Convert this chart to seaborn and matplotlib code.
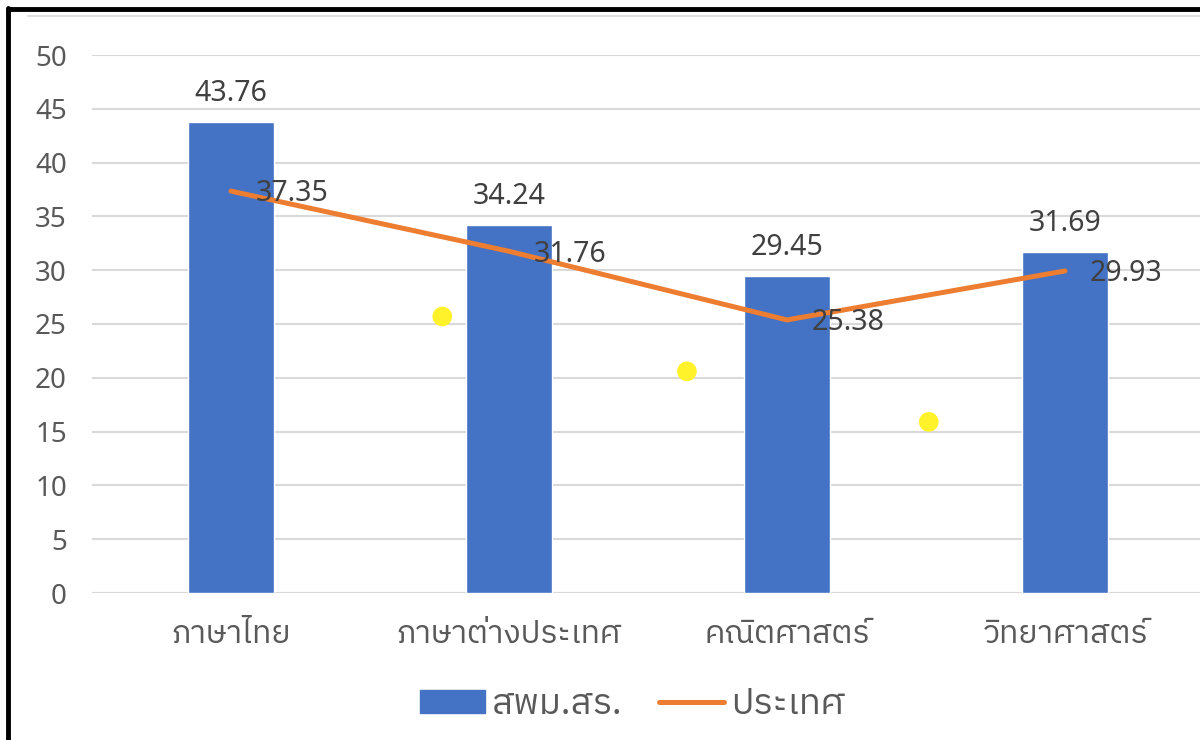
import matplotlib
matplotlib.use("Agg")
import matplotlib.pyplot as plt
from matplotlib import font_manager
from matplotlib.ft2font import FT2Font
from matplotlib.lines import Line2D
from matplotlib.patches import Patch
import seaborn as sns
import pandas as pd

# data
subjects = ["ภาษาไทย", "ภาษาต่างประเทศ", "คณิตศาสตร์", "วิทยาศาสตร์"]
province = [43.76, 34.24, 29.45, 31.69]   # สพม.สร.
country = [37.35, 31.76, 25.38, 29.93]    # ประเทศ
dot_x = [0.76, 1.64, 2.51]
dot_y = [25.7, 20.6, 15.9]
yticks = [0, 5, 10, 15, 20, 25, 30, 35, 40, 45, 50]

# find a font that has Thai glyphs
thai_font = None
for path in sorted(font_manager.findSystemFonts()):
    try:
        cmap = FT2Font(path).get_charmap()
    except Exception:
        continue
    if 0x0E20 in cmap and 0x0E29 in cmap:
        thai_font = font_manager.FontProperties(fname=path).get_name()
        if "Sans" in thai_font:
            break

sns.set_style("white")
families = ["Noto Sans", "DejaVu Sans"]
if thai_font:
    families = ["Noto Sans", thai_font, "DejaVu Sans"]
plt.rcParams["font.family"] = families

df = pd.DataFrame({"subject": subjects, "province": province, "country": country})

fig = plt.figure(figsize=(12, 7.4), dpi=100)
ax = fig.add_axes([92 / 1200, 147 / 740, 1112 / 1200, 538 / 740])

sns.barplot(data=df, x="subject", y="province", color="#4472C4", width=0.31,
            saturation=1, ax=ax, zorder=2)
sns.lineplot(x=list(range(len(subjects))), y=country, color="#ED7D31", lw=3.6,
             ax=ax, zorder=3)
sns.scatterplot(x=dot_x, y=dot_y, color="#FFF22A", s=200, edgecolor="none",
                ax=ax, zorder=4)

for i, v in enumerate(province):
    ax.annotate(f"{v:.2f}", (i, v), xytext=(0, 10), textcoords="offset points",
                ha="center", va="bottom", fontsize=20.5, color="#404040")
for i, v in enumerate(country):
    ax.annotate(f"{v:.2f}", (i, v), xytext=(18, -2), textcoords="offset points",
                ha="left", va="center", fontsize=20.5, color="#404040", zorder=5)

ax.set_xlim(-0.5, 3.5)
ax.set_ylim(0, 50)
ax.set_yticks(yticks)
ax.yaxis.grid(True, color="#D9D9D9", lw=1.5)
ax.set_axisbelow(True)
for s in ax.spines.values():
    s.set_visible(False)
ax.set_xlabel("")
ax.set_ylabel("")
ax.tick_params(axis="y", length=0, pad=18, labelsize=20, labelcolor="#595959")
ax.tick_params(axis="x", length=0, pad=18, labelsize=23, labelcolor="#595959")
ax.axhline(0, color="#D9D9D9", lw=1.5, zorder=1)

handles = [Patch(color="#4472C4"), Line2D([0], [0], color="#ED7D31", lw=3.6)]
fig.legend(handles, ["สพม.สร.", "ประเทศ"], loc="center", bbox_to_anchor=(0.527, 0.047),
           ncol=2, frameon=False, fontsize=26, handlelength=1.8, handleheight=0.6,
           columnspacing=1.0, handletextpad=0.2, labelcolor="#595959")

# frame bits of the cropped screenshot
fig.add_artist(Line2D([8 / 1200, 8 / 1200], [0, 1 - 8 / 740], color="black", lw=3.5,
                      transform=fig.transFigure))
fig.add_artist(Line2D([8 / 1200, 1], [1 - 9 / 740, 1 - 9 / 740], color="black", lw=3.5,
                      transform=fig.transFigure))
fig.add_artist(Line2D([28 / 1200, 1], [1 - 16 / 740, 1 - 16 / 740], color="#E0E0E0", lw=1.5,
                      transform=fig.transFigure))

fig.savefig("out.png", dpi=100)
